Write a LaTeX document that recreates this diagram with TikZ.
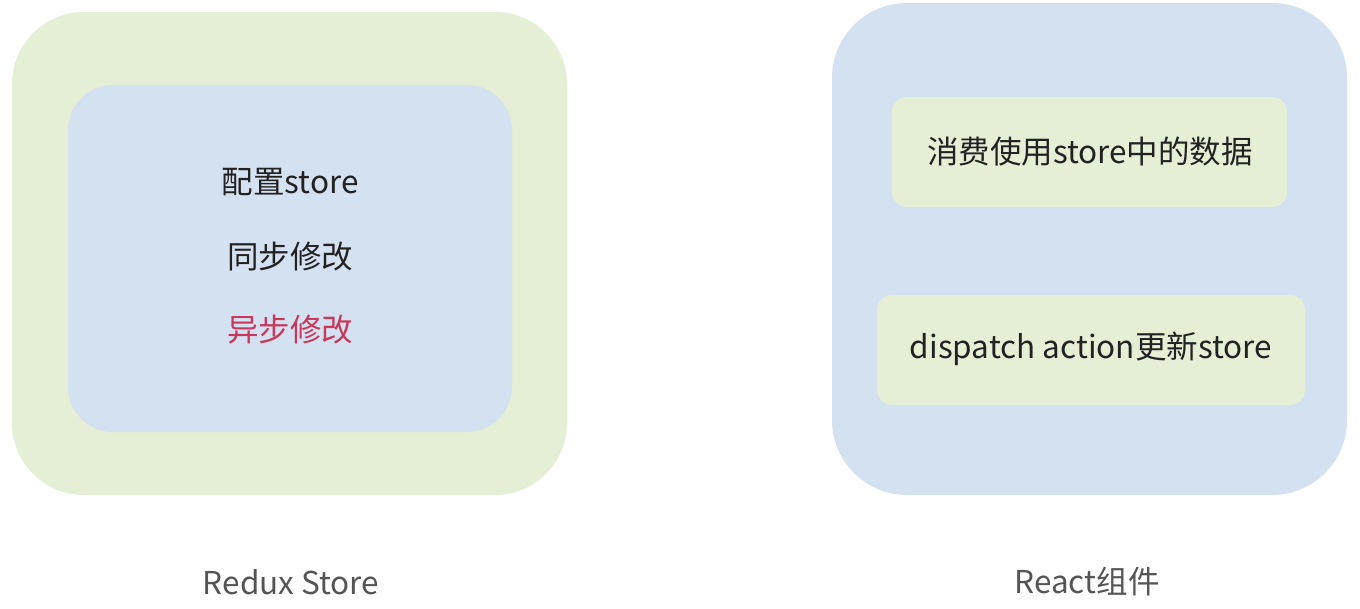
\documentclass[tikz,border=0pt]{standalone}
\usepackage{fontspec}
\setmainfont{Noto Sans CJK SC}
\definecolor{gfill}{HTML}{E5EFD6}
\definecolor{bfill}{HTML}{D4E1F0}
\definecolor{redtxt}{HTML}{C8385A}
\definecolor{darktxt}{HTML}{222222}
\definecolor{graytxt}{HTML}{555555}
\begin{document}
\begin{tikzpicture}[x=1pt,y=-1pt,
  maintext/.style={font=\fontsize{31.5}{36}\selectfont, text=darktxt, inner sep=0pt},
  labeltext/.style={font=\fontsize{31.5}{36}\selectfont, text=graytxt, inner sep=0pt}]
\useasboundingbox (0,0) rectangle (1360,608);
\fill[white] (0,0) rectangle (1360,608);
% left
\fill[gfill, rounded corners=72pt] (12,12) rectangle (567,495);
\fill[bfill, rounded corners=45pt] (68,85) rectangle (512,432);
\node[maintext] (cfg) at (290,182) {配置store};
\node[maintext] (sync) at (290,257) {同步修改};
\node[maintext, text=redtxt] (async) at (290,330) {异步修改};
\node[labeltext] (redux) at (291,582) {Redux Store};
% right
\fill[bfill, rounded corners=75pt] (832,3) rectangle (1347,495);
\fill[gfill, rounded corners=15pt] (892,97) rectangle (1287,207);
\fill[gfill, rounded corners=15pt] (877,295) rectangle (1305,405);
\node[maintext] (use) at (1090,152) {消费使用store中的数据};
\node[maintext] (disp) at (1091,349) {dispatch action更新store};
\node[labeltext] (react) at (1087,582) {React组件};
\end{tikzpicture}
\end{document}
